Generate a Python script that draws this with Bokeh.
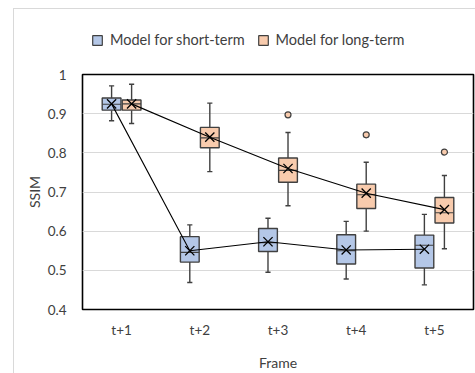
from bokeh.plotting import figure
from bokeh.layouts import column
from bokeh.models import (ColumnDataSource, FactorRange, FixedTicker, Legend, LegendItem, Range1d)
from bokeh.transform import dodge
from bokeh.embed import file_html
from bokeh.resources import INLINE

categories = ["t+1", "t+2", "t+3", "t+4", "t+5"]

short_low = [0.882, 0.469, 0.495, 0.478, 0.463]
short_q1 = [0.909, 0.521, 0.548, 0.516, 0.506]
short_median = [0.924, 0.546, 0.571, 0.550, 0.564]
short_q3 = [0.940, 0.586, 0.607, 0.591, 0.590]
short_high = [0.971, 0.616, 0.633, 0.625, 0.643]
short_mean = [0.925, 0.550, 0.573, 0.552, 0.554]

long_low = [0.875, 0.752, 0.665, 0.600, 0.555]
long_q1 = [0.909, 0.813, 0.725, 0.658, 0.621]
long_median = [0.925, 0.838, 0.755, 0.693, 0.647]
long_q3 = [0.935, 0.865, 0.787, 0.720, 0.686]
long_high = [0.975, 0.927, 0.852, 0.776, 0.742]
long_mean = [0.925, 0.840, 0.760, 0.697, 0.655]

long_outlier_cats = ["t+3", "t+4", "t+5"]
long_outlier_vals = [0.897, 0.846, 0.802]

y_ticks = [0.4, 0.5, 0.6, 0.7, 0.8, 0.9, 1.0]
y_tick_labels = ["0.4", "0.5", "0.6", "0.7", "0.8", "0.9", "1"]

series_names = ["Model for short-term", "Model for long-term"]
series_colors = ["#b4c7e7", "#f8cbad"]

FONT = "Lato"
TXT = "#404040"
EDGE = "#404040"

OFF = 0.128
BW = 0.24
CAP = 0.033

series = [
    (-OFF, series_colors[0], short_low, short_q1, short_median, short_q3, short_high, short_mean),
    (OFF, series_colors[1], long_low, long_q1, long_median, long_q3, long_high, long_mean),
]

# ---- legend strip (top of the chart area) ----
leg = figure(width=462, height=55, margin=(8, 0, 0, 13),
             x_range=FactorRange(*categories), y_range=Range1d(0, 1),
             x_axis_location=None, y_axis_location=None,
             output_backend="svg", toolbar_location=None,
             min_border=0)
leg.styles = {"border-left": "1px solid #d9d9d9", "border-top": "1px solid #d9d9d9"}
leg.grid.visible = False
leg.outline_line_color = None
leg_items = []
for name, (off, color, lo, q1, med, q3, hi, mean) in zip(series_names, series):
    lsrc = ColumnDataSource(dict(cat=categories, q1=q1, q3=q3))
    r = leg.vbar(x=dodge("cat", off, range=leg.x_range), width=BW, top="q3", bottom="q1",
                 source=lsrc, fill_color=color, line_color=EDGE, line_width=1.2, visible=False)
    leg_items.append(LegendItem(label=name, renderers=[r]))
legend = Legend(items=leg_items, orientation="horizontal", location=(9, 16),
                background_fill_alpha=0, border_line_color=None,
                inactive_fill_alpha=0,
                label_text_font=FONT, label_text_font_size="14.5px", label_text_color=TXT,
                glyph_width=12, glyph_height=12, label_standoff=7, spacing=12,
                padding=0, margin=0)
leg.add_layout(legend, "center")

# ---- main plot ----
p = figure(x_range=FactorRange(*categories), y_range=(0.4, 1.0),
           width=462, height=310, margin=(0, 0, 0, 13),
           output_backend="svg", toolbar_location=None,
           min_border_left=68, min_border_right=3, min_border_top=11, min_border_bottom=63)
p.styles = {"border-left": "1px solid #d9d9d9"}

p.outline_line_color = "black"
p.outline_line_width = 1.6
p.xgrid.grid_line_color = None
p.ygrid.grid_line_color = "#d9d9d9"
p.ygrid.grid_line_width = 1
p.yaxis.ticker = FixedTicker(ticks=y_ticks)
p.yaxis.major_label_overrides = {t: l for t, l in zip(y_ticks, y_tick_labels)}
for ax in (p.xaxis, p.yaxis):
    ax.axis_line_color = None
    ax.major_tick_line_color = None
    ax.minor_tick_line_color = None
    ax.major_label_text_font = FONT
    ax.major_label_text_font_size = "13.5px"
    ax.major_label_text_color = TXT
    ax.axis_label_text_font = FONT
    ax.axis_label_text_font_size = "14px"
    ax.axis_label_text_color = TXT
    ax.axis_label_text_font_style = "normal"
p.xaxis.axis_label = "Frame"
p.yaxis.axis_label = "SSIM"
p.xaxis.major_label_standoff = 6
p.xaxis.axis_label_standoff = 13
p.yaxis.major_label_standoff = 10
p.yaxis.axis_label_standoff = 2

for off, color, lo, q1, med, q3, hi, mean in series:
    src = ColumnDataSource(dict(cat=categories, lo=lo, q1=q1, med=med, q3=q3, hi=hi, mean=mean))
    p.segment(x0=dodge("cat", off, range=p.x_range), x1=dodge("cat", off, range=p.x_range),
              y0="hi", y1="q3", source=src, line_color=EDGE, line_width=1.4)
    p.segment(x0=dodge("cat", off, range=p.x_range), x1=dodge("cat", off, range=p.x_range),
              y0="lo", y1="q1", source=src, line_color=EDGE, line_width=1.4)
    p.segment(x0=dodge("cat", off - CAP, range=p.x_range), x1=dodge("cat", off + CAP, range=p.x_range),
              y0="hi", y1="hi", source=src, line_color=EDGE, line_width=1.4)
    p.segment(x0=dodge("cat", off - CAP, range=p.x_range), x1=dodge("cat", off + CAP, range=p.x_range),
              y0="lo", y1="lo", source=src, line_color=EDGE, line_width=1.4)
    p.vbar(x=dodge("cat", off, range=p.x_range), width=BW, top="q3", bottom="q1",
           source=src, fill_color=color, line_color=EDGE, line_width=1.4)
    p.segment(x0=dodge("cat", off - BW / 2, range=p.x_range), x1=dodge("cat", off + BW / 2, range=p.x_range),
              y0="med", y1="med", source=src, line_color=EDGE, line_width=1.2)

for off, color, lo, q1, med, q3, hi, mean in series:
    src = ColumnDataSource(dict(cat=categories, mean=mean))
    p.line(x=dodge("cat", off, range=p.x_range), y="mean", source=src, line_color="black", line_width=1.1)
    p.scatter(x=dodge("cat", off, range=p.x_range), y="mean", source=src, marker="x",
              size=13, line_color="black", line_width=1.3)

osrc = ColumnDataSource(dict(cat=long_outlier_cats, val=long_outlier_vals))
p.scatter(x=dodge("cat", OFF, range=p.x_range), y="val", source=osrc, marker="circle",
          size=6, fill_color="#f8cbad", line_color=EDGE, line_width=1.2)

layout = column(leg, p, spacing=0)
open("out.html", "w").write(file_html(layout, INLINE))
